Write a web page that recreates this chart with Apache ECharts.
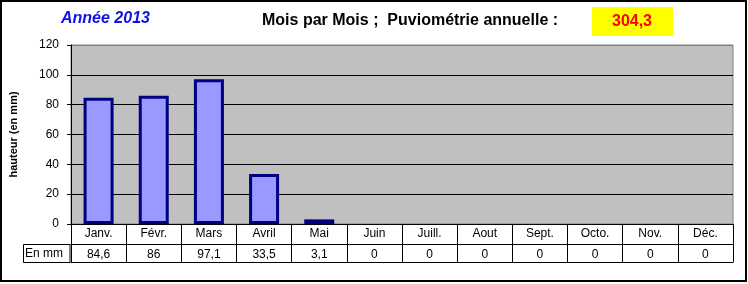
<!DOCTYPE html>
<html>
<head>
<meta charset="utf-8">
<script src="https://cdn.jsdelivr.net/npm/echarts@6/dist/echarts.min.js"></script>
<style>
html,body{margin:0;padding:0;background:#fff;}
#c{width:748px;height:284px;}
</style>
</head>
<body>
<div id="c"></div>
<script>
const months = ['Janv.', 'Févr.', 'Mars', 'Avril', 'Mai', 'Juin', 'Juill.', 'Aout', 'Sept.', 'Octo.', 'Nov.', 'Déc.'];
const rainfall = [84.6, 86, 97.1, 33.5, 3.1, 0, 0, 0, 0, 0, 0, 0];
const yTicks = [0, 20, 40, 60, 80, 100, 120];
const yearTitle = 'Année 2013';
const mainTitle = 'Mois par Mois ;  Puviométrie annuelle :';
const rowLabel = 'En mm';
const yAxisName = 'hauteur (en mm)';

const FONT = '"Liberation Sans", Arial, sans-serif';
const fmt = v => String(v).replace('.', ',');
const total = rainfall.reduce((a, b) => a + b, 0);
const totalText = total.toFixed(1).replace('.', ',');
const barData = rainfall.map(v => v === 0 ? {value: v, itemStyle: {borderWidth: 0, opacity: 0}} : v);

const chart = echarts.init(document.getElementById('c'), null, {renderer: 'canvas'});
chart.setOption({
  animation: false,
  backgroundColor: '#fff',
  textStyle: {fontFamily: FONT},
  grid: {
    left: 70, top: 45, right: 15, bottom: 60,
    show: true, backgroundColor: '#C0C0C0', borderColor: '#808080', borderWidth: 1
  },
  xAxis: [
    {
      type: 'category', data: months, position: 'bottom',
      axisLine: {show: true, lineStyle: {color: '#000', width: 1}},
      axisTick: {show: true, interval: 0, length: 38, alignWithLabel: false, lineStyle: {color: '#000'}},
      axisLabel: {interval: 0, margin: 4, color: '#000', fontSize: 12, fontFamily: FONT},
      splitLine: {show: false}
    },
    {
      type: 'category', data: rainfall.map(fmt), position: 'bottom', offset: 20,
      axisLine: {show: true, lineStyle: {color: '#000', width: 1}},
      axisTick: {show: false},
      axisLabel: {interval: 0, margin: 5, color: '#000', fontSize: 12, fontFamily: FONT},
      splitLine: {show: false}
    },
    {
      type: 'category', data: months, position: 'bottom', offset: 38,
      axisLine: {show: true, lineStyle: {color: '#000', width: 1}},
      axisTick: {show: false},
      axisLabel: {show: false},
      splitLine: {show: false}
    }
  ],
  yAxis: {
    type: 'value', min: yTicks[0], max: yTicks[yTicks.length - 1], interval: yTicks[1] - yTicks[0],
    name: yAxisName, nameLocation: 'middle', nameRotate: 90, nameGap: 52,
    nameTextStyle: {fontSize: 11, fontWeight: 'bold', color: '#000', fontFamily: FONT},
    axisLine: {show: true, lineStyle: {color: '#000', width: 1}},
    axisTick: {show: true, inside: false, length: 4, lineStyle: {color: '#000'}},
    axisLabel: {margin: 12, color: '#000', fontSize: 12, fontFamily: FONT},
    splitLine: {show: true, lineStyle: {color: ['#000', '#000', '#000', '#000', '#000', '#000', '#808080'], width: 1}}
  },
  series: [{
    type: 'bar', xAxisIndex: 0, data: barData, barWidth: 30,
    itemStyle: {color: '#9999FF', borderColor: '#000080', borderWidth: 3}
  }],
  graphic: [
    {type: 'rect', shape: {x: 1, y: 1, width: 745, height: 280}, style: {fill: 'none', stroke: '#000', lineWidth: 2}, z: 100},
    {type: 'text', left: 61, top: 11, style: {text: yearTitle, fill: '#1010E8', font: 'italic bold 16px ' + FONT}},
    {type: 'text', left: 262, top: 13, style: {text: mainTitle, fill: '#000', font: 'bold 16px ' + FONT}},
    {type: 'rect', shape: {x: 592, y: 7, width: 81, height: 29}, style: {fill: '#FFFF00', stroke: 'none'}},
    {type: 'text', x: 632, y: 22, style: {text: totalText, fill: '#FF0000', font: 'bold 16px ' + FONT, align: 'center', verticalAlign: 'middle'}},
    {type: 'rect', shape: {x: 23.5, y: 244.5, width: 46.5, height: 18}, style: {fill: 'none', stroke: '#000', lineWidth: 1}},
    {type: 'text', x: 25, y: 254, style: {text: rowLabel, fill: '#000', font: '12px ' + FONT, align: 'left', verticalAlign: 'middle'}}
  ]
});
</script>
</body>
</html>
